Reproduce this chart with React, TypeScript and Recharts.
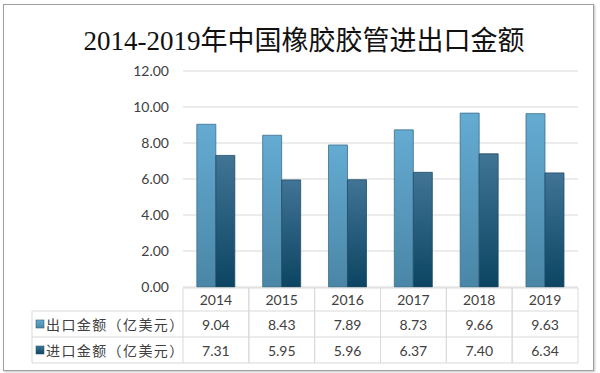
import { BarChart, Bar, XAxis, YAxis, CartesianGrid } from 'recharts';

const years = ['2014', '2015', '2016', '2017', '2018', '2019'];
const exportValues = [9.04, 8.43, 7.89, 8.73, 9.66, 9.63];
const importValues = [7.31, 5.95, 5.96, 6.37, 7.4, 6.34];
const seriesNames = ['出口金额（亿美元）', '进口金额（亿美元）'];
const yTicks = [0, 2, 4, 6, 8, 10, 12];

const data = years.map((year, i) => ({ year, exp: exportValues[i], imp: importValues[i] }));

const W = 600;
const H = 373;
const M = { top: 71, right: 22, bottom: 10, left: 123 };
const Y_AXIS_W = 60;
const X_AXIS_H = 76;
const BAND = (W - M.left - M.right - Y_AXIS_W) / years.length;
const LABEL_COL = 151;
const GRID = '#d9d9d9';
const TEXT = '#404040';
const NUM_FONT = 'Lato, "Open Sans", sans-serif';
const CJK_FONT = '"Noto Sans CJK SC", sans-serif';

function TableTick({ x, y, payload }: any) {
  const i = payload.index;
  const half = BAND / 2;
  const left = x - half;
  const right = x + half;
  const rowLines = [y + 24, y + 50, y + 76];
  const rowText = [y + 12, y + 37, y + 63];
  return (
    <g>
      <line x1={left} x2={left} y1={y + 1} y2={y + 76} stroke={GRID} />
      <line x1={right} x2={right} y1={y + 1} y2={y + 76} stroke={GRID} />
      <line x1={left} x2={right} y1={y + 1} y2={y + 1} stroke={GRID} />
      {rowLines.map((ly, k) => (
        <line key={k} x1={left} x2={right} y1={ly} y2={ly} stroke={GRID} />
      ))}
      <text x={x} y={rowText[0]} textAnchor="middle" dominantBaseline="central" fontSize={14} fill={TEXT} fontFamily={NUM_FONT}>
        {years[i]}
      </text>
      <text x={x} y={rowText[1]} textAnchor="middle" dominantBaseline="central" fontSize={14} fill={TEXT} fontFamily={NUM_FONT}>
        {exportValues[i].toFixed(2)}
      </text>
      <text x={x} y={rowText[2]} textAnchor="middle" dominantBaseline="central" fontSize={14} fill={TEXT} fontFamily={NUM_FONT}>
        {importValues[i].toFixed(2)}
      </text>
      {i === 0 && (
        <g>
          <line x1={left - LABEL_COL} x2={left - LABEL_COL} y1={y + 24} y2={y + 76} stroke={GRID} />
          {rowLines.map((ly, k) => (
            <line key={k} x1={left - LABEL_COL} x2={left} y1={ly} y2={ly} stroke={GRID} />
          ))}
          {seriesNames.map((name, k) => (
            <g key={name}>
              <rect
                x={left - LABEL_COL + 4}
                y={rowText[k + 1] - 4}
                width={8}
                height={8}
                fill={k === 0 ? 'url(#gExp)' : 'url(#gImp)'}
                stroke="#2f5d78"
                strokeWidth={0.6}
              />
              <text
                x={left - LABEL_COL + 14}
                y={rowText[k + 1]}
                dominantBaseline="central"
                fontSize={14}
                letterSpacing={1.4}
                fill={TEXT}
                fontFamily={CJK_FONT}
              >
                {name}
              </text>
            </g>
          ))}
        </g>
      )}
    </g>
  );
}

export default function App() {
  return (
    <div style={{ position: 'absolute', left: 0, top: 0, width: W, height: H, background: '#fff' }}>
      <div
        style={{
          position: 'absolute',
          left: 3,
          top: 4,
          width: 589,
          height: 365,
          border: '1px solid #a0a0a0',
          boxShadow: '1px 1px 2px rgba(0,0,0,0.25)',
        }}
      />
      <div
        style={{
          position: 'absolute',
          left: 0,
          width: W,
          top: 21,
          textAlign: 'center',
          fontSize: 27,
          lineHeight: '40px',
          color: '#111',
          fontFamily: '"Liberation Serif", "Noto Sans CJK SC", serif',
          paddingLeft: 4,
        }}
      >
        2014-2019年中国橡胶胶管进出口金额
      </div>
      <div style={{ position: 'absolute', left: 0, top: 0 }}>
        <BarChart width={W} height={H} data={data} margin={M} barCategoryGap="21%" barGap={0}>
          <defs>
            <linearGradient id="gExp" x1="0" y1="0" x2="0" y2="1">
              <stop offset="0%" stopColor="#64abd2" />
              <stop offset="100%" stopColor="#4a86a6" />
            </linearGradient>
            <linearGradient id="gImp" x1="0" y1="0" x2="0" y2="1">
              <stop offset="0%" stopColor="#417495" />
              <stop offset="100%" stopColor="#0b4562" />
            </linearGradient>
          </defs>
          <CartesianGrid vertical={false} stroke={GRID} />
          <XAxis
            dataKey="year"
            height={X_AXIS_H}
            axisLine={false}
            tickLine={false}
            tickSize={0}
            tickMargin={0}
            interval={0}
            tick={<TableTick />}
          />
          <YAxis
            width={Y_AXIS_W}
            domain={[0, 12]}
            ticks={yTicks}
            axisLine={false}
            tickLine={false}
            tickSize={0}
            tickMargin={14}
            tickFormatter={(v: number) => v.toFixed(2)}
            tick={{ fontSize: 14, fill: TEXT, fontFamily: NUM_FONT }}
          />
          <Bar dataKey="exp" name={seriesNames[0]} fill="url(#gExp)" stroke="#3c6f8c" strokeWidth={0.8} isAnimationActive={false} />
          <Bar dataKey="imp" name={seriesNames[1]} fill="url(#gImp)" stroke="#1f4d66" strokeWidth={0.8} isAnimationActive={false} />
        </BarChart>
      </div>
    </div>
  );
}
